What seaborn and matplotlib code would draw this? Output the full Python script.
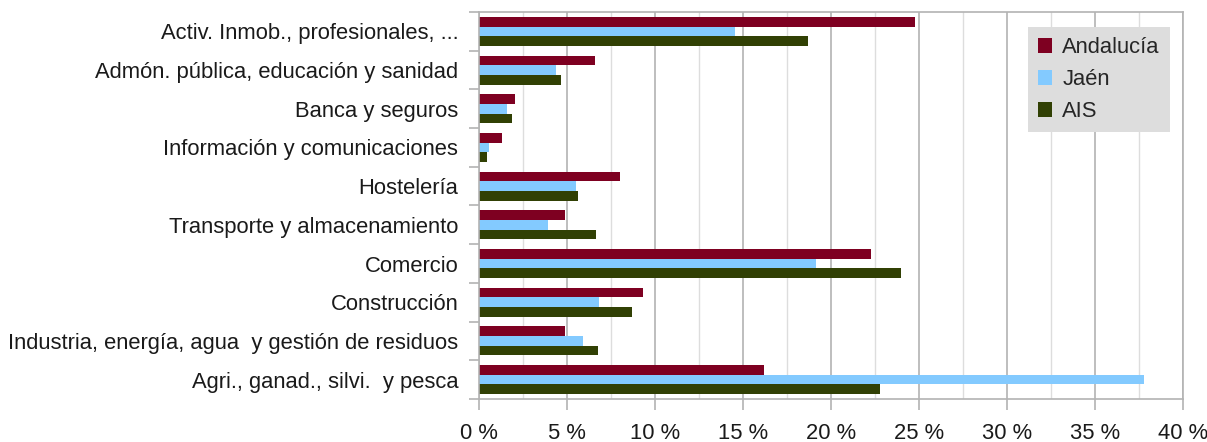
import matplotlib
matplotlib.use("Agg")
import matplotlib.pyplot as plt
import matplotlib.ticker as mticker
from matplotlib.patches import Patch
import numpy as np
import pandas as pd
import seaborn as sns

sectors = [
    "Activ. Inmob., profesionales, ...",
    "Admón. pública, educación y sanidad",
    "Banca y seguros",
    "Información y comunicaciones",
    "Hostelería",
    "Transporte y almacenamiento",
    "Comercio",
    "Construcción",
    "Industria, energía, agua  y gestión de residuos",
    "Agri., ganad., silvi.  y pesca",
]
regions = ["Andalucía", "Jaén", "AIS"]
andalucia = [24.8, 6.6, 2.05, 1.3, 8.0, 4.9, 22.25, 9.3, 4.9, 16.2]
jaen = [14.55, 4.4, 1.6, 0.55, 5.5, 3.9, 19.15, 6.8, 5.9, 37.8]
ais = [18.7, 4.65, 1.9, 0.45, 5.65, 6.65, 23.95, 8.7, 6.75, 22.8]
x_ticks = [0, 5, 10, 15, 20, 25, 30, 35, 40]

colors = ["#7E0021", "#83CAFF", "#314004"]

df = pd.DataFrame({
    "sector": sectors * 3,
    "region": [r for r in regions for _ in sectors],
    "value": andalucia + jaen + ais,
})

sns.set_theme(style="white")
plt.rcParams["font.family"] = ["Liberation Sans", "DejaVu Sans"]

fig = plt.figure(figsize=(12.07, 4.42), dpi=100)
ax = fig.add_axes([479 / 1207, 1 - 399 / 442, 704 / 1207, 387 / 442])

sns.barplot(data=df, y="sector", x="value", hue="region", order=sectors,
            hue_order=regions, palette=colors, orient="h", width=0.75,
            saturation=1, linewidth=0, ax=ax, legend=False)

ax.set_xlim(0, 40)
ax.set_ylim(len(sectors) - 0.5, -0.5)
ax.set_xlabel("")
ax.set_ylabel("")

# x axis: major every 5 %, lighter minor lines in between
ax.xaxis.set_major_locator(mticker.FixedLocator(x_ticks))
ax.xaxis.set_major_formatter(mticker.FuncFormatter(lambda v, p: f"{int(v)} %"))
ax.xaxis.set_minor_locator(mticker.MultipleLocator(2.5))
ax.grid(which="major", axis="x", color="#b3b3b3", linewidth=1.2)
ax.grid(which="minor", axis="x", color="#dddddd", linewidth=1.0)
ax.grid(which="major", axis="y", visible=False)
ax.set_axisbelow(True)
ax.tick_params(axis="x", which="major", length=8, width=1.2, color="#b3b3b3",
               direction="out", labelsize=15.8, labelcolor="#1a1a1a", pad=9,
               bottom=True)
ax.tick_params(axis="x", which="minor", length=0)

# y axis: labels at category centres, tick marks at category boundaries
ax.set_yticks(np.arange(len(sectors)))
ax.set_yticklabels(sectors)
ax.yaxis.set_minor_locator(mticker.FixedLocator(np.arange(-0.5, len(sectors), 1.0)))
ax.tick_params(axis="y", which="major", length=0, labelsize=15.8,
               labelcolor="#1a1a1a", pad=15)
ax.tick_params(axis="y", which="minor", length=7, width=1.2, color="#b3b3b3",
               direction="out", left=True)

for side in ["left", "bottom", "top", "right"]:
    ax.spines[side].set_color("#b3b3b3")
    ax.spines[side].set_linewidth(1.2)

handles = [Patch(facecolor=c, edgecolor="none") for c in colors]
leg = ax.legend(handles, regions, loc="upper right",
                bbox_to_anchor=(0.981, 0.961), borderaxespad=0,
                frameon=True, fancybox=False, fontsize=15.8,
                handlelength=0.65, handleheight=0.65, handletextpad=0.45,
                labelspacing=0.5, borderpad=0.45)
leg.get_frame().set_facecolor("#dddddd")
leg.get_frame().set_edgecolor("none")
leg.get_frame().set_alpha(1)

fig.savefig("out.png", dpi=100, facecolor="white")
